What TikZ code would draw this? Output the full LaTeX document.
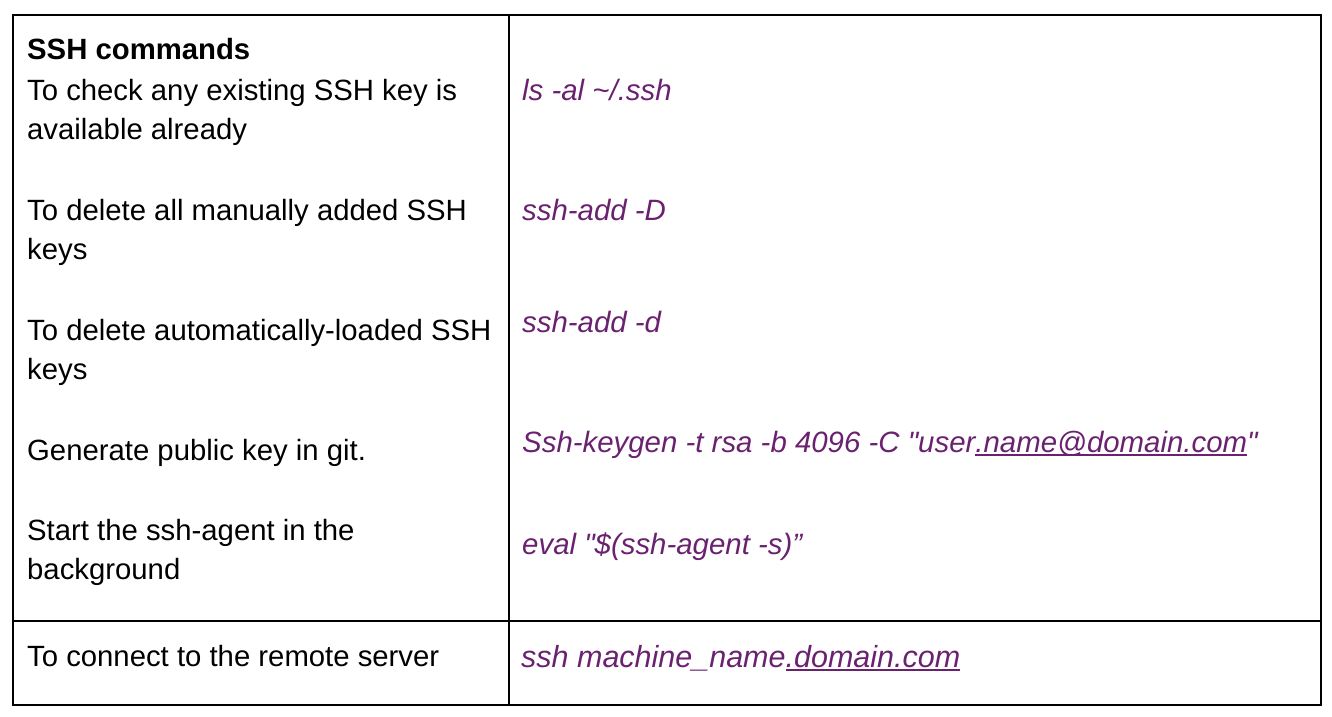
\documentclass[tikz,border=0pt]{standalone}
\usepackage{fontspec}
\setmainfont{Liberation Sans}
\newfontfamily\cmdfont{Liberation Sans}[Ligatures=TeXOff]
\definecolor{cmdpurple}{RGB}{106,33,112}
% underlined part of an address
\newcommand\cmdlink[1]{\setbox0\hbox{#1}\rlap{\rule[-3.5pt]{\wd0}{1.3pt}}\box0}
\begin{document}
\begin{tikzpicture}[x=1pt,y=-1pt]

\tikzset{
    txt/.style={anchor=base west,inner sep=0pt,font=\fontsize{29.3}{34}\selectfont},
    cmd/.style={txt,text=cmdpurple,font=\fontsize{29.4}{34}\cmdfont\itshape},
    rule/.style={line width=2pt}
}

\useasboundingbox (0,0) rectangle (1332,716);

%% Table frame
\draw[rule] (13,15) rectangle (1321,705);
\draw[rule] (509,15) -- (509,705);
\draw[rule] (13,621) -- (1321,621);

%% Left column
\node[txt,font=\fontsize{29.3}{34}\selectfont\bfseries] (head) at (27,59) {SSH commands};
\node[txt] (check1) at (27,100) {To check any existing SSH key is};
\node[txt] (check2) at (27,139) {available already};
\node[txt] (delall1) at (27,220) {To delete all manually added SSH};
\node[txt] (delall2) at (27,259) {keys};
\node[txt] (delauto1) at (27,340) {To delete automatically-loaded SSH};
\node[txt] (delauto2) at (27,379) {keys};
\node[txt] (gen) at (27,460) {Generate public key in git.};
\node[txt] (agent1) at (27,540) {Start the ssh-agent in the};
\node[txt] (agent2) at (27,579) {background};
\node[txt] (connect) at (27,666) {To connect to the remote server};

%% Right column
\node[cmd] (ls) at (522,100) {ls -al \char`~/.ssh};
\node[cmd] (addD) at (522,220) {ssh-add -D};
\node[cmd] (addd) at (522,332) {ssh-add -d};
\node[cmd] (keygen) at (522,452) {Ssh-keygen -t rsa -b 4096 -C "user\cmdlink{.name@domain.com}"};
\node[cmd] (eval) at (522,554) {eval "\$(ssh-agent -s)”};
\node[cmd,font=\fontsize{30.5}{35}\cmdfont\itshape] (ssh) at (521,667) {ssh machine\_name\cmdlink{.domain.com}};

\end{tikzpicture}
\end{document}
